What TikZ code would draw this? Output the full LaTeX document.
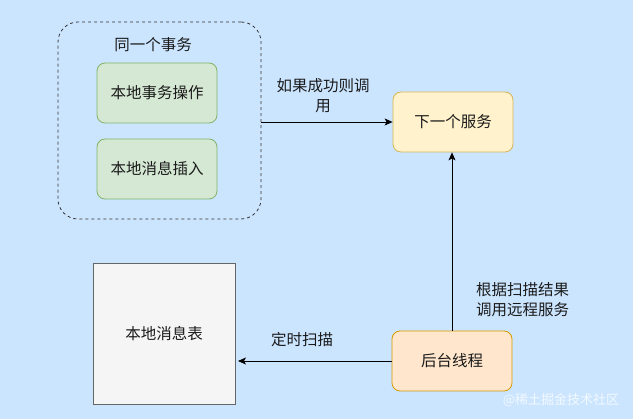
\documentclass[tikz,border=0pt]{standalone}
\usepackage{fontspec}
\setmainfont{Noto Sans CJK SC}
\usetikzlibrary{arrows.meta}
\definecolor{bgblue}{HTML}{CCE5FF}
\definecolor{gfill}{HTML}{D5E8D4}
\definecolor{gline}{HTML}{82B366}
\definecolor{yfill}{HTML}{FFF2CC}
\definecolor{yline}{HTML}{D6B656}
\definecolor{ofill}{HTML}{FFE6CC}
\definecolor{oline}{HTML}{D79B00}
\definecolor{tfill}{HTML}{F5F5F5}
\definecolor{tline}{HTML}{666666}
\definecolor{txt}{HTML}{1A1A1A}
\tikzset{
  box/.style={draw, rounded corners=8pt, line width=0.8pt, minimum width=120pt, minimum height=60pt, inner sep=0pt, text=txt, font=\fontsize{15.5}{20}\selectfont},
  greenbox/.style={box, fill=gfill, draw=gline},
  yellowbox/.style={box, fill=yfill, draw=yline},
  orangebox/.style={box, fill=ofill, draw=oline},
  conn/.style={draw=black, line width=0.8pt, -{Stealth[length=8pt,width=7pt,inset=2pt]}},
  lbl/.style={text=txt, font=\fontsize{15.5}{20}\selectfont, inner sep=0pt},
}
\begin{document}
\begin{tikzpicture}[x=1pt,y=-1pt]
\fill[bgblue] (0,0) rectangle (633,419);
\useasboundingbox (0,0) rectangle (633,419);
% container
\node[draw=black!80, dash pattern=on 3pt off 3pt, line width=0.8pt, rounded corners=20pt, minimum width=203pt, minimum height=197pt, inner sep=0pt] (grp) at (159.5,120.5) {};
\node[lbl] (grptitle) at (153,45) {同一个事务};
\node[greenbox] (op) at (157,93) {本地事务操作};
\node[greenbox] (ins) at (157,169) {本地消息插入};
\node[yellowbox] (next) at (453,122) {下一个服务};
\node[orangebox] (bg) at (452,361) {后台线程};
\node[draw=tline, fill=tfill, line width=0.8pt, minimum width=142pt, minimum height=141pt, inner sep=0pt, text=txt, font=\fontsize{15.5}{20}\selectfont] (tbl) at (164,333.5) {本地消息表};
\coordinate (tip) at (238,361);
% connectors
\draw[conn] (grp.east |- next.west) -- (next.west);
\draw[conn] (bg.west) -- (tip);
\draw[conn] (bg.north) -- (bg.north |- next.south);
% labels
\node[lbl, align=center] (l1) at (323,96) {如果成功则调\\用};
\node[lbl] (l2) at (302,340) {定时扫描};
\node[lbl, align=left, anchor=west] (l3) at (476,300) {根据扫描结果\\调用远程服务};
\node[text=white!75!bgblue, font=\fontsize{13}{13}\selectfont, inner sep=0pt] (wm) at (561,400) {@稀土掘金技术社区};
\end{tikzpicture}
\end{document}
